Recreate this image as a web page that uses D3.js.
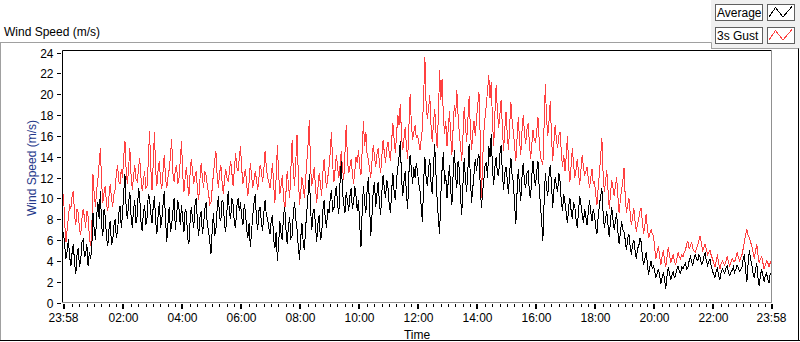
<!DOCTYPE html>
<html>
<head>
<meta charset="utf-8">
<script src="https://cdn.jsdelivr.net/npm/d3@7"></script>
<style>
  html, body { margin: 0; padding: 0; background: #fff; }
  svg text { font-family: "Liberation Sans", Arial, sans-serif; font-size: 12px; }
</style>
</head>
<body>
<svg id="chart" width="800" height="342"></svg>
<script>
// ---- data (2.5-minute samples from 23:58 to 23:58 next day; one row = one hour) ----
const seriesNames = ["Average", "3s Gust"];
const startTime = "23:58";
const spanMinutes = 1440;
const average = [
  6.8, 5.4, 4.2, 5.0, 6.1, 4.4, 3.5, 4.8, 5.6, 3.8, 2.7, 4.6, 5.2, 3.4, 4.0, 5.8, 6.0, 4.4, 4.6, 5.6, 3.5, 4.8, 4.2, 5.2,
  8.6, 7.0, 6.0, 8.4, 9.6, 8.0, 10.7, 7.4, 6.4, 9.0, 8.2, 6.2, 5.4, 7.0, 7.8, 5.6, 5.8, 7.4, 8.0, 6.2, 6.9, 8.6, 9.3, 7.2,
  8.4, 10.6, 12.3, 9.0, 8.0, 9.6, 10.6, 8.2, 7.2, 9.0, 9.8, 7.6, 8.4, 11.0, 10.2, 7.8, 6.9, 8.6, 9.4, 7.4, 8.2, 10.4, 10.0, 8.6,
  7.6, 9.2, 10.2, 7.8, 6.6, 8.4, 9.6, 7.2, 8.0, 9.4, 10.7, 8.0, 5.8, 7.6, 9.2, 6.8, 7.4, 8.8, 10.0, 7.0, 8.4, 9.8, 9.0, 7.4,
  9.4, 8.0, 6.8, 9.0, 8.6, 6.2, 5.6, 7.8, 9.2, 8.0, 7.2, 9.4, 10.0, 7.6, 6.4, 8.2, 8.8, 6.6, 7.6, 9.0, 9.6, 7.4, 6.9, 5.8,
  4.7, 7.0, 8.6, 6.4, 7.0, 9.0, 10.2, 8.2, 7.8, 9.8, 9.6, 7.4, 6.8, 8.8, 10.7, 8.6, 8.0, 10.0, 9.4, 7.6, 7.2, 9.2, 10.0, 8.8,
  9.6, 8.2, 7.4, 9.4, 8.8, 7.0, 6.2, 7.6, 5.3, 6.8, 8.4, 9.6, 10.4, 8.0, 7.0, 8.8, 9.2, 7.6, 6.9, 8.6, 9.8, 8.4, 8.0, 7.2,
  6.6, 7.8, 8.4, 6.0, 5.2, 6.8, 4.0, 5.6, 7.8, 6.6, 6.0, 8.4, 9.2, 7.0, 5.6, 7.4, 8.2, 6.2, 6.4, 8.6, 9.6, 8.0, 7.0, 5.4,
  4.1, 6.2, 7.6, 5.8, 5.0, 7.2, 8.8, 10.4, 12.3, 9.0, 7.0, 8.6, 9.0, 7.4, 5.8, 7.6, 8.4, 6.0, 6.4, 8.8, 9.8, 8.0, 7.2, 9.0,
  8.6, 10.0, 10.8, 8.8, 9.0, 10.4, 11.2, 9.4, 8.5, 11.6, 13.6, 10.6, 9.4, 8.6, 10.6, 9.8, 8.8, 10.2, 11.0, 9.0, 9.6, 11.2, 10.2, 8.8,
  9.8, 7.4, 5.3, 8.8, 11.2, 9.6, 8.6, 10.8, 12.0, 9.2, 6.4, 8.4, 10.8, 11.6, 9.2, 10.4, 11.6, 9.6, 8.4, 10.6, 12.2, 11.0, 10.0, 11.8,
  11.0, 9.4, 8.6, 10.8, 12.4, 10.6, 9.8, 11.8, 13.0, 14.0, 15.5, 12.0, 10.2, 11.6, 12.6, 10.4, 9.0, 12.4, 14.2, 12.8, 11.4, 13.0, 12.0, 13.4,
  12.6, 11.4, 10.8, 9.2, 7.7, 11.6, 14.0, 12.0, 11.2, 12.8, 13.8, 11.6, 10.4, 13.0, 15.2, 12.4, 9.8, 8.0, 6.6, 10.4, 12.8, 14.4, 11.4, 12.2,
  10.0, 11.6, 13.2, 10.8, 9.4, 12.4, 14.6, 12.2, 11.0, 13.6, 12.8, 10.2, 8.4, 11.4, 13.9, 11.8, 10.6, 12.8, 15.2, 12.0, 9.6, 11.0, 12.4, 13.8,
  12.6, 13.8, 14.2, 11.4, 9.1, 10.6, 11.8, 13.2, 13.4, 12.0, 15.0, 14.0, 16.2, 12.8, 11.3, 13.0, 14.0, 12.4, 12.2, 14.2, 15.1, 12.6, 10.8, 12.4,
  13.0, 11.8, 10.4, 12.6, 13.9, 12.2, 11.6, 9.4, 7.5, 10.6, 12.8, 11.2, 9.7, 12.0, 13.4, 11.6, 11.0, 12.4, 12.6, 10.6, 10.0, 12.2, 13.6, 12.0,
  11.2, 12.6, 13.6, 11.0, 9.4, 7.8, 5.9, 9.6, 12.4, 11.0, 10.2, 12.2, 13.2, 11.4, 9.1, 10.8, 12.0, 11.2, 10.6, 12.4, 11.6, 9.6, 8.8, 10.4,
  9.6, 8.6, 7.6, 9.2, 10.0, 8.8, 8.0, 9.6, 9.2, 8.0, 7.2, 8.8, 10.2, 9.4, 8.4, 7.6, 9.0, 8.2, 7.4, 8.8, 9.8, 8.6, 7.8, 9.0,
  8.4, 7.2, 6.6, 8.2, 9.4, 10.2, 11.0, 8.6, 7.2, 8.0, 8.8, 7.4, 6.3, 7.8, 9.2, 8.0, 7.0, 7.8, 8.6, 6.8, 5.6, 6.6, 7.8, 7.0,
  6.8, 6.0, 5.0, 6.2, 6.6, 5.4, 4.6, 5.6, 6.0, 5.0, 4.2, 5.2, 5.4, 6.2, 5.8, 4.4, 3.6, 4.2, 4.8, 3.8, 2.6, 3.4, 4.0, 3.2,
  3.6, 3.0, 2.4, 2.8, 3.2, 2.6, 1.8, 2.4, 2.9, 2.2, 1.3, 2.6, 3.4, 2.8, 2.2, 2.6, 3.0, 2.4, 2.6, 3.2, 3.5, 3.0, 2.8, 3.4,
  3.2, 3.6, 3.8, 3.2, 3.4, 4.0, 4.4, 3.9, 3.6, 4.2, 4.6, 4.2, 4.0, 4.6, 4.3, 3.7, 3.8, 4.4, 4.8, 4.0, 3.6, 3.9, 4.2, 3.5,
  3.0, 2.7, 2.4, 3.0, 3.3, 2.6, 2.2, 2.9, 3.2, 3.0, 2.8, 3.3, 3.5, 2.9, 2.6, 2.9, 3.1, 3.4, 2.9, 3.2, 3.6, 3.3, 3.0, 3.2,
  3.4, 4.2, 4.6, 3.0, 2.0, 3.8, 5.0, 4.2, 3.6, 2.8, 2.4, 3.2, 3.8, 2.4, 1.6, 2.6, 3.2, 2.6, 2.0, 2.6, 2.8, 2.2, 1.9, 2.8,
  2.6
];
const gust = [
  10.4, 7.6, 5.8, 7.0, 8.2, 9.4, 9.0, 10.2, 10.7, 8.4, 7.4, 9.0, 8.6, 7.0, 6.5, 8.0, 9.0, 8.2, 7.2, 8.8, 8.3, 6.4, 5.4, 6.8,
  12.3, 10.4, 9.2, 10.8, 11.8, 13.4, 14.8, 11.6, 9.6, 10.6, 11.2, 9.4, 8.8, 10.2, 11.4, 10.0, 9.2, 10.4, 10.8, 12.4, 13.2, 11.6, 11.4, 12.8,
  12.0, 14.0, 15.5, 12.6, 11.4, 13.0, 14.8, 12.2, 10.8, 12.2, 13.2, 11.8, 11.6, 12.8, 13.9, 12.0, 10.7, 11.6, 12.6, 11.0, 11.2, 13.6, 16.5, 13.0,
  10.8, 13.4, 16.4, 12.6, 11.2, 12.8, 13.6, 11.6, 10.9, 12.6, 14.2, 12.0, 11.0, 12.0, 12.8, 14.0, 15.7, 12.4, 11.6, 12.8, 13.2, 11.4, 12.0, 13.6,
  15.5, 12.2, 10.6, 12.0, 13.0, 11.4, 10.2, 12.4, 13.8, 12.6, 11.4, 12.2, 12.6, 10.8, 9.8, 11.8, 13.4, 12.0, 11.0, 12.6, 12.2, 11.2, 10.5, 9.4,
  9.6, 11.0, 12.4, 13.6, 14.5, 12.2, 11.0, 12.4, 13.2, 11.6, 10.4, 11.8, 12.8, 12.0, 11.6, 12.6, 13.6, 12.4, 11.2, 12.8, 14.3, 13.0, 12.6, 13.8,
  15.0, 12.8, 11.4, 12.2, 12.8, 11.4, 10.2, 11.6, 13.4, 12.2, 11.0, 11.8, 12.6, 11.8, 10.8, 12.0, 13.2, 12.6, 11.6, 12.8, 14.5, 13.0, 12.0, 11.6,
  11.0, 12.0, 13.4, 11.2, 9.6, 12.0, 15.1, 12.4, 10.4, 11.2, 12.2, 10.2, 8.8, 10.6, 12.6, 11.4, 10.0, 12.8, 15.6, 12.6, 11.2, 13.6, 16.1, 12.4,
  9.4, 10.6, 12.0, 11.2, 10.0, 11.8, 13.6, 15.2, 17.5, 13.0, 11.2, 12.0, 13.0, 11.0, 9.6, 11.0, 12.4, 11.4, 10.2, 12.4, 13.8, 12.2, 11.0, 12.0,
  13.0, 14.4, 16.4, 13.2, 11.6, 12.8, 14.2, 13.0, 12.0, 13.2, 14.5, 12.8, 11.8, 14.4, 17.0, 13.8, 12.4, 13.0, 13.8, 12.4, 11.4, 12.6, 14.0, 13.4,
  14.6, 13.0, 12.2, 14.6, 17.4, 15.0, 16.4, 14.2, 13.8, 12.8, 12.0, 13.6, 15.1, 14.0, 13.0, 14.2, 14.8, 13.4, 12.4, 14.0, 15.6, 14.4, 13.4, 14.8,
  15.4, 14.4, 13.6, 15.6, 17.2, 15.6, 14.4, 16.2, 18.0, 17.0, 19.1, 16.0, 14.6, 15.8, 16.8, 15.0, 13.8, 16.8, 20.0, 17.2, 15.6, 16.4, 17.0, 15.8,
  16.0, 15.4, 14.6, 15.6, 16.8, 19.8, 23.6, 19.0, 17.6, 18.6, 19.9, 17.0, 15.4, 17.2, 18.6, 16.4, 14.8, 18.0, 22.3, 19.4, 21.5, 18.0, 16.2, 17.4,
  15.0, 16.6, 18.4, 16.0, 14.2, 16.8, 19.0, 17.8, 20.4, 18.0, 16.2, 15.0, 13.6, 16.0, 18.8, 17.0, 15.4, 17.6, 19.8, 16.8, 14.6, 16.4, 17.4, 16.0,
  17.6, 19.0, 20.2, 16.0, 10.0, 13.6, 16.4, 17.8, 19.0, 20.4, 21.8, 19.6, 21.2, 17.4, 15.0, 18.2, 20.9, 18.4, 16.8, 18.0, 19.4, 17.0, 14.5, 16.6,
  18.3, 16.2, 14.6, 17.0, 19.2, 17.4, 16.4, 15.0, 13.6, 15.8, 17.8, 15.6, 14.2, 16.4, 18.0, 16.4, 15.2, 16.6, 17.2, 15.4, 13.8, 15.2, 16.6, 15.6,
  15.4, 16.4, 17.8, 15.6, 14.0, 13.6, 13.2, 17.0, 21.0, 17.6, 16.0, 17.4, 19.3, 16.0, 13.6, 15.4, 17.0, 15.6, 14.8, 16.0, 16.4, 14.4, 13.0, 14.2,
  12.6, 14.0, 16.0, 13.0, 11.6, 13.2, 14.8, 13.2, 12.0, 12.8, 13.8, 12.4, 11.3, 12.8, 14.2, 13.0, 12.2, 12.6, 13.0, 11.8, 11.0, 12.0, 12.8, 11.4,
  11.6, 10.4, 9.4, 11.0, 12.4, 14.0, 15.8, 12.4, 10.6, 11.6, 12.7, 10.8, 9.0, 10.4, 11.8, 11.0, 10.2, 11.2, 12.0, 10.2, 8.6, 9.8, 10.8, 11.6,
  12.9, 10.2, 8.6, 9.4, 10.0, 8.6, 7.4, 8.2, 9.1, 7.8, 6.8, 7.6, 8.0, 8.8, 9.1, 7.6, 6.6, 7.4, 8.5, 7.2, 6.2, 6.6, 7.0, 6.6,
  6.4, 5.2, 4.2, 4.8, 5.4, 4.4, 3.6, 4.4, 5.0, 4.0, 3.4, 4.4, 5.3, 4.6, 3.8, 4.2, 4.6, 4.0, 3.6, 4.2, 4.8, 4.4, 4.2, 4.6,
  4.4, 4.8, 5.0, 5.6, 5.9, 5.2, 5.4, 5.8, 5.2, 4.9, 4.8, 5.2, 5.5, 6.0, 6.4, 5.6, 5.0, 5.3, 5.6, 5.1, 4.6, 4.8, 5.0, 4.5,
  4.2, 3.8, 3.4, 4.0, 4.6, 3.8, 3.2, 3.7, 4.0, 3.8, 3.6, 4.0, 4.4, 3.9, 3.5, 3.9, 4.2, 4.0, 3.9, 4.3, 4.8, 4.4, 4.0, 4.3,
  4.6, 5.2, 5.8, 6.6, 7.0, 6.4, 6.2, 5.8, 5.4, 4.8, 4.2, 4.9, 5.6, 4.6, 3.8, 4.2, 4.4, 3.8, 3.2, 3.6, 4.0, 3.8, 3.4, 3.9,
  3.6
];
const yTicks = [0, 2, 4, 6, 8, 10, 12, 14, 16, 18, 20, 22, 24];
const xTickLabels = ["23:58", "02:00", "04:00", "06:00", "08:00", "10:00", "12:00",
                     "14:00", "16:00", "18:00", "20:00", "22:00", "23:58"];
const chartTitle = "Wind Speed (m/s)";
const yTitle = "Wind Speed (m/s)";
const xTitle = "Time";

// ---- layout ----
const plot = { left: 62.5, right: 771.5, top: 50.5, bottom: 302.5 };
const svg = d3.select("#chart");

const parseHM = d3.timeParse("%H:%M");
const t0 = parseHM(startTime);
const t1 = d3.timeDay.offset(t0, 1);
const timesFor = arr => arr.map((_, i) => new Date(+t0 + i * spanMinutes / (arr.length - 1) * 60000));

const x = d3.scaleTime().domain([t0, t1]).range([63.5, 771.5]);
const y = d3.scaleLinear().domain([0, 24]).range([302.5, 52.5]);

// ---- frames ----
svg.append("rect").attr("x", 711).attr("y", 0).attr("width", 89).attr("height", 49).attr("fill", "#f0f0f0");
svg.append("line").attr("x1", 0).attr("x2", 711.5).attr("y1", 42.5).attr("y2", 42.5).attr("stroke", "#a0a0a0");
svg.append("line").attr("x1", 0.5).attr("x2", 0.5).attr("y1", 42.5).attr("y2", 341).attr("stroke", "#a0a0a0");
svg.append("line").attr("x1", 711.5).attr("x2", 711.5).attr("y1", 42.5).attr("y2", 49).attr("stroke", "#a0a0a0");
svg.append("line").attr("x1", 711.5).attr("x2", 799).attr("y1", 48.5).attr("y2", 48.5).attr("stroke", "#a0a0a0");
svg.append("line").attr("x1", 0).attr("x2", 800).attr("y1", 340.5).attr("y2", 340.5).attr("stroke", "#000");
svg.append("line").attr("x1", 798.5).attr("x2", 798.5).attr("y1", 48.5).attr("y2", 341).attr("stroke", "#000");

svg.append("text").attr("x", 4).attr("y", 36).attr("fill", "#000").text(chartTitle);

// ---- series ----
svg.append("clipPath").attr("id", "clip").append("rect")
  .attr("x", plot.left).attr("y", plot.top).attr("width", plot.right - plot.left).attr("height", plot.bottom - plot.top);
const g = svg.append("g").attr("clip-path", "url(#clip)");
[[gust, "#ff4040"], [average, "#000"]].forEach(([arr, col]) => {
  const ts = timesFor(arr);
  const line = d3.line().x((d, i) => x(ts[i])).y(d => y(d));
  g.append("path").datum(arr).attr("d", line).attr("fill", "none")
    .attr("stroke", col).attr("stroke-width", 1).attr("shape-rendering", "crispEdges");
});

// plot frame
svg.append("line").attr("x1", plot.left).attr("x2", plot.right).attr("y1", plot.top).attr("y2", plot.top).attr("stroke", "#000");
svg.append("line").attr("x1", plot.left).attr("x2", plot.left).attr("y1", plot.top).attr("y2", plot.bottom).attr("stroke", "#000");
svg.append("line").attr("x1", plot.left).attr("x2", plot.right + 0.5).attr("y1", plot.bottom).attr("y2", plot.bottom).attr("stroke", "#909090");
svg.append("line").attr("x1", plot.right).attr("x2", plot.right).attr("y1", plot.top).attr("y2", plot.bottom).attr("stroke", "#909090");

// ---- y axis ----
const yAxis = svg.append("g");
yTicks.forEach(v => {
  const yy = Math.round(y(v)) + 0.5;
  yAxis.append("line").attr("x1", 57).attr("x2", 61).attr("y1", yy).attr("y2", yy).attr("stroke", "#000");
  yAxis.append("text").attr("x", 53.5).attr("y", yy + 4.3).attr("text-anchor", "end").attr("fill", "#000").text(v);
});
svg.append("text").attr("transform", "translate(35.5,168) rotate(-90)").attr("text-anchor", "middle")
  .attr("fill", "#24388a").text(yTitle);

// ---- x axis ----
const xAxis = svg.append("g");
const majorTimes = xTickLabels.map((s, i) => {
  const p = parseHM(s);
  return i === 0 ? p : d3.timeDay.offset(p, 1);
});
const majorSet = new Set(majorTimes.map(d => +d));
d3.timeMinute.every(15).range(d3.timeMinute.offset(t0, 2), t1)
  .filter(d => !majorSet.has(+d) && !(d.getHours() === 0 && d.getMinutes() === 0))
  .forEach(d => {
    const xx = Math.round(x(d)) + 0.5;
    xAxis.append("line").attr("x1", xx).attr("x2", xx).attr("y1", 304).attr("y2", 307).attr("stroke", "#000");
  });
majorTimes.forEach((d, i) => {
  const xx = Math.round(x(d));
  xAxis.append("rect").attr("x", xx - 1).attr("y", 304).attr("width", 2).attr("height", 5).attr("fill", "#000");
  xAxis.append("text").attr("x", x(d)).attr("y", 322).attr("text-anchor", "middle").attr("fill", "#000").text(xTickLabels[i]);
});
svg.append("text").attr("x", (plot.left + plot.right) / 2).attr("y", 339).attr("text-anchor", "middle")
  .attr("fill", "#000").text(xTitle);

// ---- legend ----
const legendColors = ["#000", "#ff4040"];
seriesNames.forEach((name, i) => {
  const top = 4.5 + i * 23;
  svg.append("rect").attr("x", 715.5).attr("y", top).attr("width", 47).attr("height", 16)
    .attr("fill", "#fff").attr("stroke", "#606060");
  svg.append("text").attr("x", 717).attr("y", top + 12.5).attr("fill", "#000").text(name);
  svg.append("rect").attr("x", 767.5).attr("y", top).attr("width", 27).attr("height", 16)
    .attr("fill", "#fff").attr("stroke", "#606060");
  const pts = [[769, 12.5], [775.5, 3], [783, 12.5], [792, 2]].map(p => [p[0], top + p[1]]);
  svg.append("path").attr("d", d3.line()(pts)).attr("fill", "none").attr("stroke", legendColors[i])
    .attr("shape-rendering", "crispEdges");
});
</script>
</body>
</html>
